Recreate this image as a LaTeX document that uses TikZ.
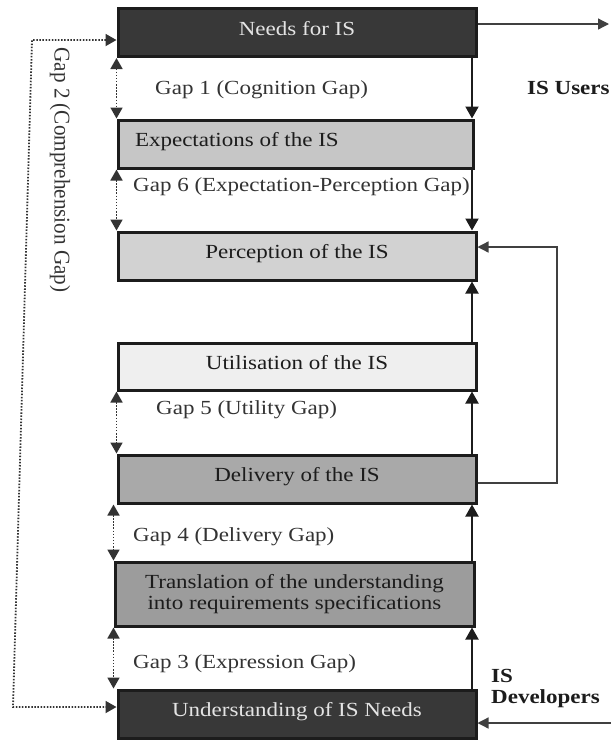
\documentclass[tikz,border=0pt]{standalone}
\usepackage{fontspec}
\setmainfont{Liberation Serif}[FakeStretch=1.15]
\newfontfamily\rotfont{Liberation Serif}[FakeStretch=0.94]
\usetikzlibrary{arrows.meta}

\definecolor{inkdark}{HTML}{1C1C1C}
\definecolor{boxdark}{HTML}{383838}
\definecolor{boxexp}{HTML}{C6C6C6}
\definecolor{boxper}{HTML}{D2D2D2}
\definecolor{boxuti}{HTML}{EFEFEF}
\definecolor{boxdel}{HTML}{A9A9A9}
\definecolor{boxtra}{HTML}{9C9C9C}
\definecolor{gaptext}{HTML}{333333}
\definecolor{lighttext}{HTML}{E4E4E4}

\begin{document}
\begin{tikzpicture}[x=1pt,y=-1pt,
  stagebox/.style={draw=inkdark, line width=3pt, minimum width=358pt,
    minimum height=48pt, inner sep=0pt, font=\fontsize{20}{21}\selectfont,
    text=inkdark, text height=14pt, text depth=9pt},
  gaplabel/.style={anchor=base west, inner sep=0pt,
    font=\fontsize{20}{21}\selectfont, text=gaptext},
  rolelabel/.style={anchor=base west, inner sep=0pt,
    font=\fontsize{20}{21}\selectfont\bfseries, text=inkdark},
  flow/.style={line width=2pt, draw=inkdark,
    -{Triangle[length=12pt,width=13pt]}},
  feed/.style={line width=1.3pt, draw=black!75,
    -{Triangle[length=11pt,width=11pt]}},
  gapspan/.style={line width=1.8pt, draw=black!80,
    dash pattern=on 1.5pt off 1.6pt,
    {Triangle[length=11pt,width=12pt]}-{Triangle[length=11pt,width=12pt]}},
]
\useasboundingbox (0,0) rectangle (611,740);

% stages of the information system life cycle
\node[stagebox, fill=boxdark, text=lighttext] (needs) at (297,32.5) {Needs for IS};
\node[stagebox, fill=boxexp, minimum width=355pt] (expect) at (295.5,144)
  {\hbox to 321pt{Expectations of the IS\hfil}};
\node[stagebox, fill=boxper] (percep) at (297,256) {Perception of the IS};
\node[stagebox, fill=boxuti, minimum height=47pt] (util) at (297,366.5) {Utilisation of the IS};
\node[stagebox, fill=boxdel] (deliv) at (297,479) {Delivery of the IS};
\node[stagebox, fill=boxtra, minimum width=359pt, minimum height=64pt,
  text height=, text depth=, align=center] (transl) at (294.5,594)
  {Translation of the understanding\\into requirements specifications};
\node[stagebox, fill=boxdark, text=lighttext] (underst) at (297,714) {Understanding of IS Needs};

% gap labels
\node[gaplabel] (g1) at (155,94.6) {Gap 1 (Cognition Gap)};
\node[gaplabel] (g6) at (133,191.6) {Gap 6 (Expectation-Perception Gap)};
\node[gaplabel] (g5) at (156,414.8) {Gap 5 (Utility Gap)};
\node[gaplabel] (g4) at (133,541.6) {Gap 4 (Delivery Gap)};
\node[gaplabel] (g3) at (133,668.4) {Gap 3 (Expression Gap)};
\node[rotate=-90, inner sep=0pt, text=gaptext,
  font=\rotfont\fontsize{22.5}{24}\selectfont] (g2) at (60,170)
  {Gap 2 (Comprehension Gap)};

% stakeholder labels
\node[rolelabel] (users) at (527,94.5) {IS Users};
\node[rolelabel] (devs) at (491,682) {\vtop{\hbox{IS}\hbox{Developers}}};

% solid flow on the right-hand side
\coordinate (rx) at (472,0);
\draw[flow] (needs.south -| rx) -- (expect.north -| rx);
\draw[flow] (expect.south -| rx) -- (percep.north -| rx);
\draw[flow] (util.north -| rx) -- (percep.south -| rx);
\draw[flow] (deliv.north -| rx) -- (util.south -| rx);
\draw[flow] (transl.north -| rx) -- (deliv.south -| rx);
\draw[flow] (underst.north -| rx) -- (transl.south -| rx);

% dotted gap spans on the left-hand side
\draw[gapspan] (needs.south west) -- (expect.north west);
\draw[gapspan] (expect.south west) -- (expect.south west |- percep.north);
\draw[gapspan] (util.south west) -- (util.south west |- deliv.north);
\draw[gapspan] (transl.north west |- deliv.south) -- (transl.north west);
\draw[gapspan] (transl.south west) -- (transl.south west |- underst.north);

% comprehension gap linking needs and understanding
\coordinate (gTop) at (32,40);
\coordinate (gBot) at (13,707);
\draw[gapspan] (gTop -| needs.west) -- (gTop) -- (gBot) -- (gBot -| underst.west);

% users, feedback loop and developers
\coordinate (usersTip) at (609,24);
\draw[feed] (usersTip -| needs.east) -- (usersTip);
\coordinate (loopLow) at (557,483);
\coordinate (loopHigh) at (557,247);
\draw[feed] (loopLow -| deliv.east) -- (loopLow) -- (loopHigh) -- (loopHigh -| percep.east);
\coordinate (devStart) at (612,723);
\draw[feed] (devStart) -- (devStart -| underst.east);
\end{tikzpicture}
\end{document}
